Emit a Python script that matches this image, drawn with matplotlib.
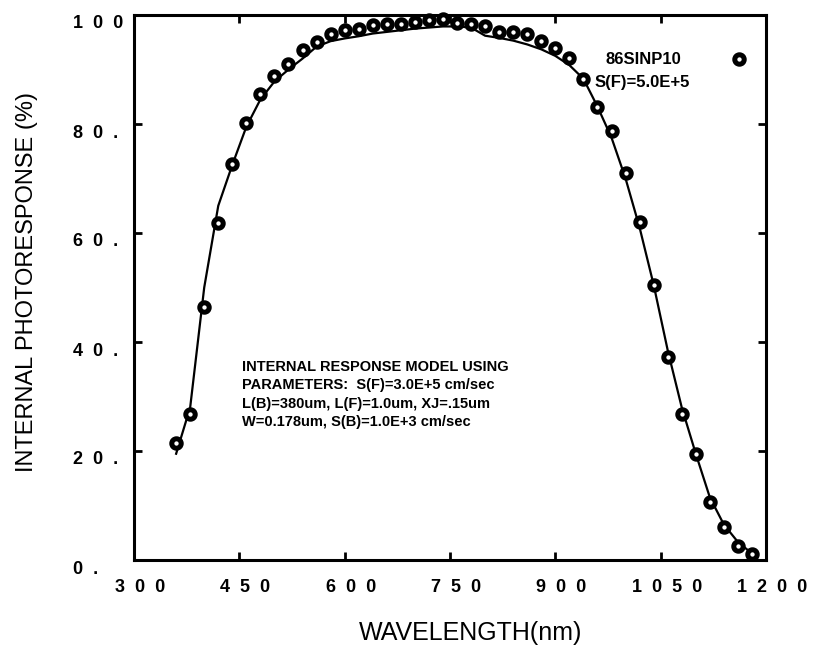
import numpy as np
import matplotlib
matplotlib.use("Agg")
import matplotlib.pyplot as plt
import matplotlib.transforms as mtransforms


# measured data points (circles)
wl_meas = [360, 380, 400, 420, 440, 460, 480, 500, 520, 540, 560, 580, 600,
           620, 640, 660, 680, 700, 720, 740, 760, 780, 800, 820, 840, 860,
           880, 900, 920, 940, 960, 980, 1000, 1020, 1040, 1060, 1080, 1100,
           1120, 1140, 1160, 1180]
resp_meas = [21.4, 26.8, 46.5, 61.8, 72.6, 80.2, 85.5, 88.8, 91.1, 93.6, 95.1,
             96.5, 97.2, 97.4, 98.2, 98.3, 98.3, 98.8, 99.0, 99.2, 98.6, 98.3,
             98.0, 96.9, 96.9, 96.5, 95.3, 93.9, 92.1, 88.3, 83.1, 78.7, 71.1,
             62.0, 50.5, 37.3, 26.7, 19.5, 10.7, 6.0, 2.6, 1.1]

# model curve
wl_model = [360, 380, 400, 420, 440, 460, 480, 500, 520, 540, 560, 580, 600,
            620, 640, 660, 680, 700, 720, 740, 760, 780, 800, 820, 840, 860,
            880, 900, 920, 940, 960, 980, 1000, 1020, 1040, 1060, 1080, 1100,
            1120, 1140, 1160, 1180]
resp_model = [19.5, 28.0, 50.0, 65.0, 72.5, 79.5, 84.5, 87.8, 90.0, 92.0, 94.2,
              95.2, 95.7, 96.1, 96.6, 96.9, 97.2, 97.5, 97.7, 97.9, 97.9, 97.7,
              96.2, 95.8, 95.3, 94.6, 93.7, 92.5, 90.8, 88.3, 83.2, 77.5, 70.0,
              61.0, 50.5, 38.5, 28.0, 19.5, 11.5, 6.5, 3.3, 1.2]

xticks = [300, 450, 600, 750, 900, 1050, 1200]
xticklabels = ["3  0  0", "4  5  0", "6  0  0", "7  5  0", "9  0  0",
               "1  0  5  0", "1  2  0  0"]
yticks = [0, 20, 40, 60, 80, 100]
yticklabels = ["0  .", "2  0  .", "4  0  .", "6  0  .", "8  0  .", "1  0  0"]

model_text = ("INTERNAL RESPONSE MODEL USING\n"
              "PARAMETERS:  S(F)=3.0E+5 cm/sec\n"
              "L(B)=380um, L(F)=1.0um, XJ=.15um\n"
              "W=0.178um, S(B)=1.0E+3 cm/sec")

plt.rcParams['font.family'] = ['Liberation Sans', 'DejaVu Sans']

fig = plt.figure(figsize=(8.21, 6.51), dpi=100)
ax = fig.add_axes([134/821, 1-560/651, 632/821, 545/651])

ax.plot(wl_model, resp_model, color='black', lw=1.6)
pts, = ax.plot(wl_meas, resp_meas, linestyle='none', marker='o', ms=6.8,
               mfc='white', mec='black', mew=3.6, clip_on=False, zorder=3)

ax.set_xlim(300, 1200)
ax.set_ylim(0, 100)

for sp in ax.spines.values():
    sp.set_linewidth(2.2)

ax.set_xticks(xticks)
ax.set_xticklabels(xticklabels, fontsize=13, fontweight='bold')
ax.set_yticks(yticks)
ax.set_yticklabels(yticklabels, fontsize=13, fontweight='bold', ha='left')
ax.tick_params(direction='in', length=6, width=2, top=True, right=True)
ax.tick_params(axis='x', pad=14)
ax.tick_params(axis='y', pad=44)

# nudge tick labels like the original
dx = mtransforms.ScaledTranslation(6/100, 0, fig.dpi_scale_trans)
for lab in ax.get_xticklabels():
    lab.set_transform(lab.get_transform() + dx)
dy = mtransforms.ScaledTranslation(0, -7/100, fig.dpi_scale_trans)
for lab in ax.get_yticklabels():
    lab.set_transform(lab.get_transform() + dy)

ax.set_xlabel("WAVELENGTH(nm)", fontsize=18, va='center')
ax.xaxis.set_label_coords(0.533, -0.134)
ax.set_ylabel("INTERNAL PHOTORESPONSE (%)", fontsize=17, va='center')
ax.yaxis.set_label_coords(-0.169, 0.51)

ax.legend([pts], ["86SINP10"], loc='center left',
          bbox_to_anchor=((605-134)/632, (560-60)/545), frameon=False,
          markerfirst=False, numpoints=1, handlelength=1.0,
          handletextpad=3.0, borderpad=0, borderaxespad=0,
          prop={'weight': 'bold', 'size': 12})
ax.text((595-134)/632, (560-83)/545, "S(F)=5.0E+5", transform=ax.transAxes,
        fontsize=12, fontweight='bold', ha='left', va='center')

ax.text((242-134)/632, (560-360)/545, model_text, transform=ax.transAxes,
        fontsize=10.5, fontweight='bold', ha='left', va='top', linespacing=1.4)

fig.savefig("out.png", dpi=100)
